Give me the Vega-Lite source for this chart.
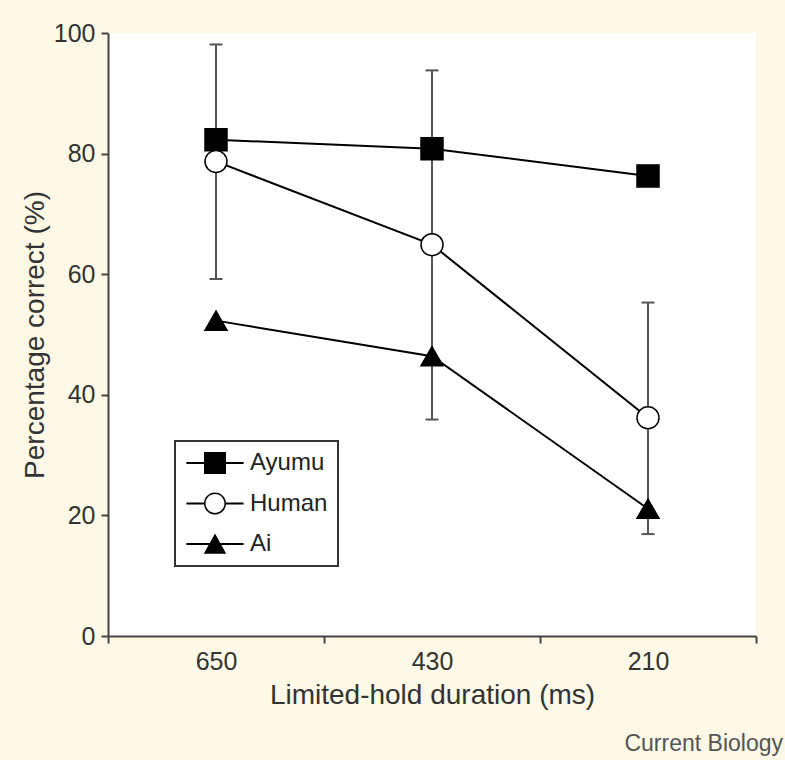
{
  "$schema": "https://vega.github.io/schema/vega-lite/v6.json",
  "width": 648,
  "height": 603,
  "autosize": {"type": "none"},
  "padding": {"left": 108, "top": 33, "right": 29, "bottom": 124},
  "background": "#fdf9e6",
  "config": {
    "view": {"fill": "white", "stroke": null},
    "font": "Liberation Sans",
    "legend": {"strokeWidth": 2}
  },
  "title": {
    "text": "Current Biology",
    "orient": "bottom",
    "anchor": "end",
    "fontSize": 23,
    "fontWeight": "normal",
    "color": "#555",
    "offset": 24,
    "dx": 26
  },
  "data": {
    "values": [
      {"series": "Ayumu", "duration": "650", "pct": 82.3},
      {"series": "Ayumu", "duration": "430", "pct": 80.8},
      {"series": "Ayumu", "duration": "210", "pct": 76.3},
      {"series": "Human", "duration": "650", "pct": 78.7, "lo": 59.2, "hi": 98.1},
      {"series": "Human", "duration": "430", "pct": 64.9, "lo": 35.9, "hi": 93.8},
      {"series": "Human", "duration": "210", "pct": 36.2, "lo": 16.9, "hi": 55.3},
      {"series": "Ai", "duration": "650", "pct": 52.3},
      {"series": "Ai", "duration": "430", "pct": 46.4},
      {"series": "Ai", "duration": "210", "pct": 21.1}
    ]
  },
  "encoding": {
    "x": {
      "field": "duration",
      "type": "nominal",
      "sort": ["650", "430", "210"],
      "scale": {"type": "band", "paddingInner": 0, "paddingOuter": 0},
      "axis": {
        "title": "Limited-hold duration (ms)",
        "tickBand": "extent",
        "labelAngle": 0,
        "labelFontSize": 25,
        "labelColor": "#333",
        "titleFontSize": 28,
        "titleFontWeight": "normal",
        "titleColor": "#333",
        "domainColor": "#444",
        "domainWidth": 2,
        "tickColor": "#444",
        "tickWidth": 2,
        "tickSize": 7,
        "labelPadding": 6,
        "titlePadding": 7
      }
    }
  },
  "layer": [
    {
      "transform": [{"filter": "isValid(datum.lo)"}],
      "mark": {"type": "rule", "color": "#555", "strokeWidth": 2},
      "encoding": {
        "y": {
          "field": "lo",
          "type": "quantitative",
          "scale": {"domain": [0, 100]},
          "axis": {
            "title": "Percentage correct (%)",
            "values": [0, 20, 40, 60, 80, 100],
            "grid": false,
            "labelFontSize": 25,
            "labelColor": "#333",
            "titleFontSize": 28,
            "titleFontWeight": "normal",
            "titleColor": "#333",
            "domainColor": "#444",
            "domainWidth": 2,
            "tickColor": "#444",
            "tickWidth": 2,
            "tickSize": 7,
            "labelPadding": 6,
            "titlePadding": 4
          }
        },
        "y2": {"field": "hi"}
      }
    },
    {
      "transform": [{"filter": "isValid(datum.lo)"}],
      "mark": {"type": "tick", "color": "#555", "thickness": 2, "size": 13, "opacity": 1},
      "encoding": {"y": {"field": "lo", "type": "quantitative"}}
    },
    {
      "transform": [{"filter": "isValid(datum.hi)"}],
      "mark": {"type": "tick", "color": "#555", "thickness": 2, "size": 13, "opacity": 1},
      "encoding": {"y": {"field": "hi", "type": "quantitative"}}
    },
    {
      "mark": {"type": "line", "color": "black", "strokeWidth": 2},
      "encoding": {
        "y": {"field": "pct", "type": "quantitative"},
        "detail": {"field": "series", "type": "nominal"}
      }
    },
    {
      "mark": {"type": "point", "stroke": "black", "strokeWidth": 1.5, "size": 484, "opacity": 1},
      "encoding": {
        "y": {"field": "pct", "type": "quantitative"},
        "shape": {
          "field": "series",
          "type": "nominal",
          "scale": {"domain": ["Ayumu", "Human", "Ai"], "range": ["square", "circle", "triangle-up"]},
          "legend": null
        },
        "fill": {
          "field": "series",
          "type": "nominal",
          "scale": {"domain": ["Ayumu", "Human", "Ai"], "range": ["black", "white", "black"]},
          "legend": null
        }
      }
    },
    {
      "mark": {"type": "point", "filled": true, "fill": "black", "strokeWidth": 0, "size": 484, "opacity": 0},
      "encoding": {
        "y": {"field": "pct", "type": "quantitative"},
        "shape": {
          "field": "series",
          "type": "nominal",
          "scale": {
            "domain": ["Ayumu", "Human", "Ai"],
            "range": [
              "M-2.6,-0.09H-1V0.09H-2.6ZM1,-0.09H2.6V0.09H1ZM-1,-1H1V1H-1Z",
              "M-2.6,-0.09H-1V0.09H-2.6ZM1,-0.09H2.6V0.09H1ZM-1,0A1,1 0 1,1 1,0A1,1 0 1,1 -1,0ZM-0.86,0A0.86,0.86 0 1,0 0.86,0A0.86,0.86 0 1,0 -0.86,0Z",
              "M-2.6,-0.09H-0.4V0.09H-2.6ZM0.4,-0.09H2.6V0.09H0.4ZM0,-0.95L1.02,0.88L-1.02,0.88Z"
            ]
          },
          "legend": {
            "title": null,
            "orient": "none",
            "legendX": 67,
            "legendY": 408,
            "padding": 10,
            "strokeColor": "#333",
            "fillColor": "white",
            "labelFontSize": 24,
            "labelColor": "#222",
            "labelOffset": 23,
            "symbolOffset": 18,
            "rowPadding": 16.5,
            "symbolSize": 484,
            "symbolOpacity": 1,
            "symbolFillColor": "black",
            "symbolStrokeWidth": 0
          }
        }
      }
    }
  ],
  "resolve": {"scale": {"shape": "independent", "fill": "independent"}}
}
